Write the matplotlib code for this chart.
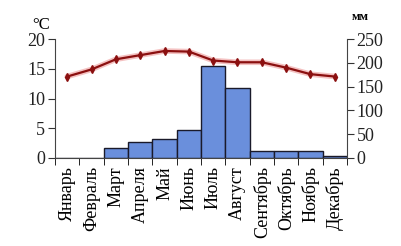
import numpy as np
import matplotlib.pyplot as plt

plt.rcParams['font.family'] = ['Liberation Serif', 'DejaVu Serif']

months = ['Январь', 'Февраль', 'Март', 'Апреля', 'Май', 'Июнь',
          'Июль', 'Август', 'Сентябрь', 'Октябрь', 'Ноябрь', 'Декабрь']
temp = [13.7, 14.9, 16.6, 17.3, 18.0, 17.9, 16.4, 16.1, 16.1, 15.2, 14.1, 13.7]
precip = [0, 0, 21, 33, 39, 59, 193, 147, 15, 15, 15, 5]

fig = plt.figure(figsize=(4.02, 2.46), dpi=100)
ax = fig.add_axes([0.137, 0.358, 0.726, 0.483])
ax2 = ax.twinx()

x = np.arange(len(months))

# осадки - столбики
ax2.bar(x, precip, width=1.0, color='#6a8fdc', edgecolor='#1a1a2a', linewidth=1.0)
ax2.set_ylim(0, 250)
ax2.set_yticks([0, 50, 100, 150, 200, 250])

# температура - линия поверх столбиков
ax.set_zorder(ax2.get_zorder() + 1)
ax.patch.set_visible(False)
ax.plot(x, temp, color='#e05050', linewidth=4, alpha=0.35, solid_capstyle='round')
ax.plot(x, temp, color='#8b1010', linewidth=1.6, marker='d', markersize=4)
ax.set_ylim(0, 20)
ax.set_yticks([0, 5, 10, 15, 20])
ax.set_xlim(-0.5, 11.5)

ax.set_xticks(x)
ax.set_xticklabels(months, rotation=90, fontsize=13)
ax.tick_params(axis='x', length=0, pad=6)
ax.set_xticks(np.arange(-0.5, 12, 1), minor=True)
ax.tick_params(axis='x', which='minor', length=5, direction='out')

for a in (ax, ax2):
    a.spines['top'].set_visible(False)
    a.tick_params(axis='y', labelsize=13, length=5, width=0.8, colors='#333333', pad=2)
    for s in a.spines.values():
        s.set_color('#444444')
ax.tick_params(axis='y', labelcolor='#222222')
ax2.tick_params(axis='y', labelcolor='#222222')
ax.spines['right'].set_visible(False)
ax2.spines['left'].set_visible(False)
ax2.spines['bottom'].set_visible(False)

fig.text(0.08, 0.9, '°C', fontsize=12, ha='left', va='center')
fig.text(0.875, 0.93, 'мм', fontsize=9, fontweight='bold', ha='left', va='center')

fig.savefig('out.png', dpi=100, facecolor='white')
